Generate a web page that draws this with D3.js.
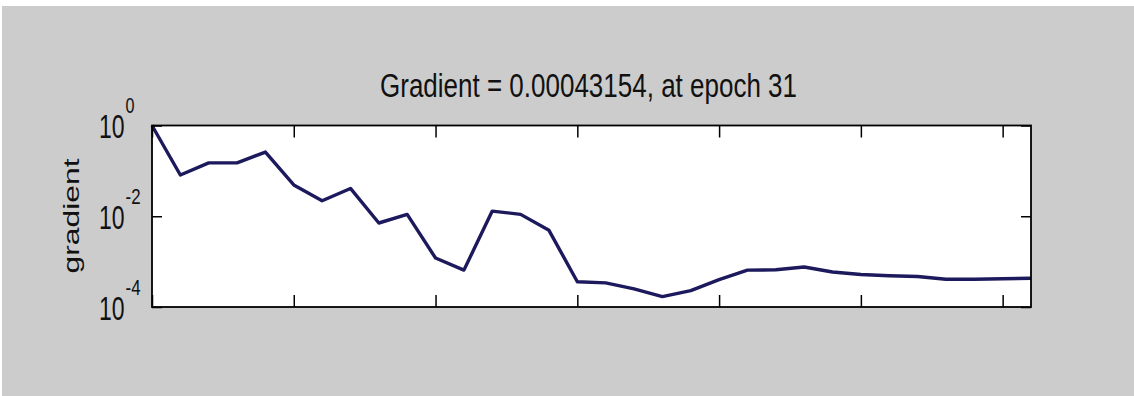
<!DOCTYPE html>
<html>
<head>
<meta charset="utf-8">
<script src="https://cdn.jsdelivr.net/npm/d3@7"></script>
<style>
  body { margin: 0; background: #fff; }
  svg { display: block; font-family: "Liberation Sans", Arial, sans-serif; }
</style>
</head>
<body>
<svg id="chart" width="1134" height="396"></svg>
<script>
// epochs 0..31 and gradient
const epochs = d3.range(0, 32);
const gradient = [1, 0.081, 0.15, 0.15, 0.26, 0.049, 0.022, 0.041, 0.0071, 0.011,
  0.0012, 0.00065, 0.013, 0.011, 0.0049, 0.00036, 0.00034, 0.00025, 0.00017, 0.00023,
  0.0004, 0.00065, 0.00066, 0.00076, 0.00059, 0.00052, 0.00049, 0.00047, 0.00041, 0.00041,
  0.00042, 0.00043154];
const xTicks = [0, 5, 10, 15, 20, 25, 30];
const yTicks = [1, 1e-2, 1e-4];
const yTickExp = ["0", "-2", "-4"];
const title = "Gradient = 0.00043154, at epoch 31";

const svg = d3.select("#chart");

// gray figure background
svg.append("rect")
  .attr("x", 2).attr("y", 6)
  .attr("width", 1132).attr("height", 390)
  .attr("fill", "#cccccc");

const axL = 152, axR = 1031, axT = 125.5, axB = 307;

const x = d3.scaleLinear().domain([0, 31]).range([axL, axR]);
const y = d3.scaleLog().domain([1e-4, 1]).range([axB, axT]);

// axes box
svg.append("rect")
  .attr("x", axL).attr("y", axT)
  .attr("width", axR - axL).attr("height", axB - axT)
  .attr("fill", "#fff");

// the line
const line = d3.line()
  .x((d, i) => x(epochs[i]))
  .y(d => y(d));

svg.append("path")
  .datum(gradient)
  .attr("d", line)
  .attr("fill", "none")
  .attr("stroke", "#1c1a5c")
  .attr("stroke-width", 3.4)
  .attr("stroke-linejoin", "round");

// axes, ticks inside on all four sides
const tl = 12;
svg.append("g")
  .attr("transform", "translate(0," + axB + ")")
  .call(d3.axisTop(x).tickValues(xTicks).tickSize(tl).tickFormat(""))
  .call(g => g.select(".domain").remove());
svg.append("g")
  .attr("transform", "translate(0," + axT + ")")
  .call(d3.axisBottom(x).tickValues(xTicks).tickSize(tl).tickFormat(""))
  .call(g => g.select(".domain").remove());
svg.append("g")
  .attr("transform", "translate(" + axL + ",0)")
  .call(d3.axisRight(y).tickValues(yTicks).tickSize(10).tickFormat(""))
  .call(g => g.select(".domain").remove());
svg.append("g")
  .attr("transform", "translate(" + axR + ",0)")
  .call(d3.axisLeft(y).tickValues(yTicks).tickSize(10).tickFormat(""))
  .call(g => g.select(".domain").remove());
svg.selectAll(".tick line").attr("stroke", "#000").attr("stroke-width", 1.5);

svg.append("rect")
  .attr("x", axL).attr("y", axT)
  .attr("width", axR - axL).attr("height", axB - axT)
  .attr("fill", "none")
  .attr("stroke", "#000")
  .attr("stroke-width", 1.8);

// y tick labels 10^n, one text each with a raised exponent
const sy = 1.41;
yTicks.forEach((t, i) => {
  const lab = svg.append("text")
    .attr("transform", "translate(99," + (y(t) + 12.5) + ") scale(1," + sy + ")")
    .attr("font-size", 23)
    .attr("fill", "#111");
  lab.append("tspan").text("10");
  lab.append("tspan")
    .attr("dx", 1)
    .attr("dy", -25 / sy)
    .attr("font-size", 16)
    .attr("textLength", yTickExp[i] === "0" ? 9 : 15)
    .attr("lengthAdjust", "spacingAndGlyphs")
    .text(yTickExp[i]);
});

// y axis label
svg.append("text")
  .attr("transform", "translate(79,216) rotate(-90)")
  .attr("text-anchor", "middle")
  .attr("font-size", 22)
  .attr("textLength", 115)
  .attr("lengthAdjust", "spacingAndGlyphs")
  .attr("fill", "#111")
  .text("gradient");

// title
svg.append("text")
  .attr("transform", "translate(380,96.7) scale(1,1.29)")
  .attr("font-size", 26)
  .attr("textLength", 417)
  .attr("lengthAdjust", "spacingAndGlyphs")
  .attr("fill", "#111")
  .text(title);
</script>
</body>
</html>
